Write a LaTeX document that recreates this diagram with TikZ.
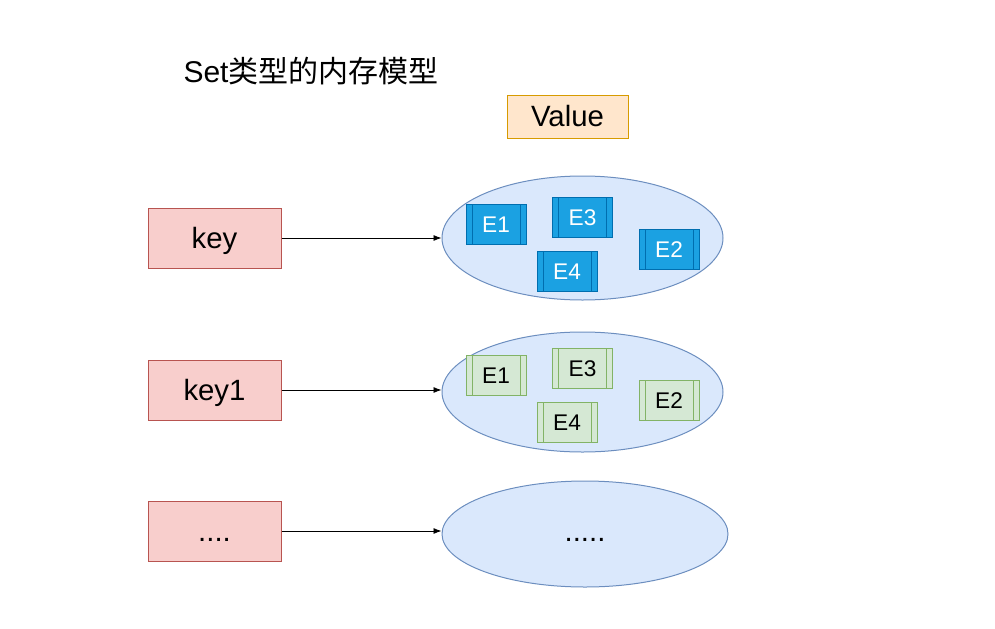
\documentclass[tikz,border=0pt]{standalone}
\usepackage{fontspec}
\setmainfont{Liberation Sans}
\newfontfamily\cjk{Noto Sans CJK SC}
\usetikzlibrary{positioning,arrows.meta,shapes.geometric}
\definecolor{keyfill}{HTML}{F8CECC}
\definecolor{keyline}{HTML}{B85450}
\definecolor{valfill}{HTML}{FFE6CC}
\definecolor{valline}{HTML}{D79B00}
\definecolor{setfill}{HTML}{DAE8FC}
\definecolor{setline}{HTML}{6C8EBF}
\definecolor{bluefill}{HTML}{1BA1E2}
\definecolor{blueline}{HTML}{006EAF}
\definecolor{greenfill}{HTML}{D5E8D4}
\definecolor{greenline}{HTML}{82B366}

\begin{document}
\begin{tikzpicture}[x=0.75pt, y=-0.75pt, line width=0.75pt,
  bigtext/.style={font=\fontsize{22}{26}\selectfont, text height=17pt, text depth=2pt},
  keybox/.style={bigtext, fill=keyfill, draw=keyline, minimum width=99.75pt, minimum height=45pt, inner sep=0pt},
  setshape/.style={ellipse, fill=setfill, draw=setline, inner sep=0pt},
  sidebars/.style={path picture={
    \draw[#1] ([xshift=4.5pt]path picture bounding box.north west) -- ([xshift=4.5pt]path picture bounding box.south west);
    \draw[#1] ([xshift=-4.5pt]path picture bounding box.north east) -- ([xshift=-4.5pt]path picture bounding box.south east);}},
  elembox/.style={minimum width=45pt, minimum height=30pt, inner sep=0pt, font=\fontsize{17}{20}\selectfont, text height=13.5pt, text depth=1.1pt},
  elemblue/.style={elembox, fill=bluefill, draw=blueline, text=white, sidebars=blueline},
  elemgreen/.style={elembox, fill=greenfill, draw=greenline, text=black, sidebars=greenline},
  link/.style={-{Latex[length=6pt,width=4.5pt]}, line width=0.6pt, black}]
\useasboundingbox (0,0) rectangle (995,628);

\node[anchor=base west, inner sep=0pt, font=\fontsize{22.5}{27}\selectfont] (title) at (183,82) {Set\cjk 类型的内存模型};
\node[bigtext, fill=valfill, draw=valline, minimum width=90.75pt, minimum height=32.25pt, inner sep=0pt] (value) at (567.5,116.5) {Value};

% keys
\node[keybox] (key) at (214.5,238) {key};
\node[keybox] (key1) at (214.5,390) {key1};
\node[keybox] (keyn) at (214.5,531) {....};

% sets
\node[setshape, minimum width=210.75pt, minimum height=93pt] (s1) at (582.5,238) {};
\node[setshape, minimum width=210.75pt, minimum height=90pt] (s2) at (582.5,392) {};
\node[setshape, minimum width=214.5pt, minimum height=79.5pt, font=\fontsize{22}{26}\selectfont, text height=13pt, text depth=1.4pt] (s3) at (585,534) {.....};

% elements
\node[elemblue] (a1) at (496,224) {E1};
\node[elemblue] (a3) at (582.5,217) {E3};
\node[elemblue] (a2) at (669,249) {E2};
\node[elemblue] (a4) at (567,271) {E4};
\node[elemgreen] (b1) at (496,375.5) {E1};
\node[elemgreen] (b3) at (582.5,368) {E3};
\node[elemgreen] (b2) at (669,400.5) {E2};
\node[elemgreen] (b4) at (567,422) {E4};

\draw[link] (key.east) -- (key.east -| s1.west);
\draw[link] (key1.east) -- (key1.east -| s2.west);
\draw[link] (keyn.east) -- (keyn.east -| s3.west);
\end{tikzpicture}
\end{document}
